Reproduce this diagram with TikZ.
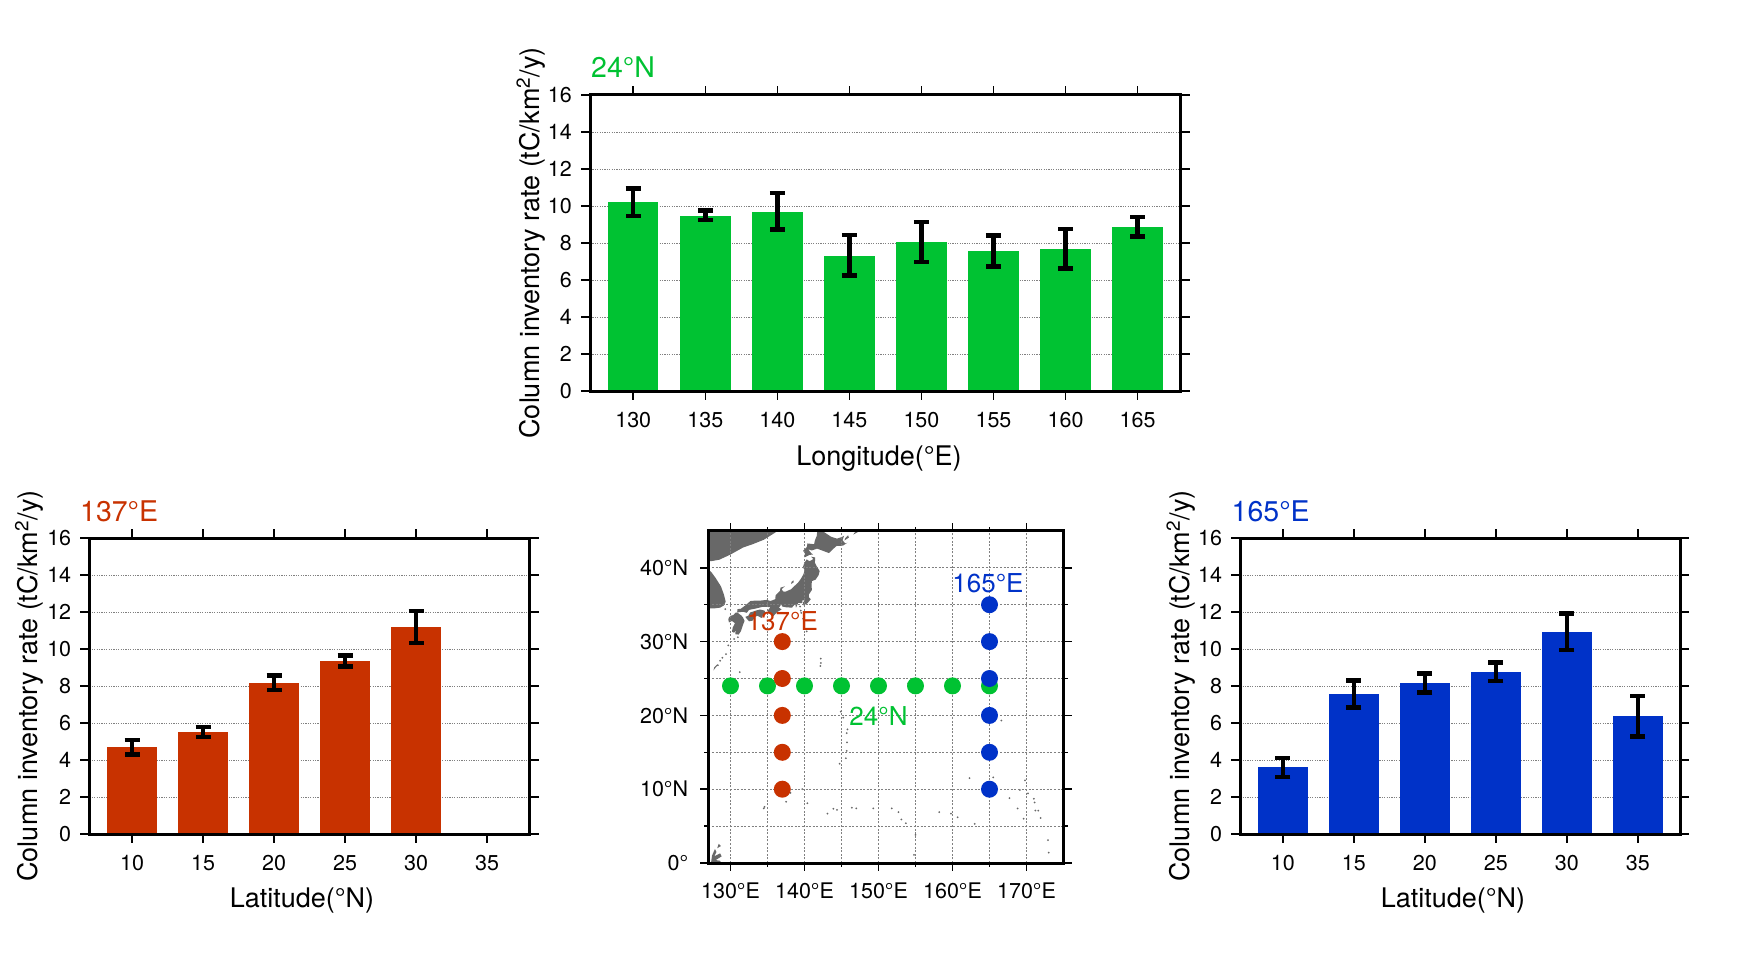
\documentclass[tikz,border=0pt]{standalone}
\usepackage{fontspec}
\setmainfont{TeX Gyre Heros}
\usetikzlibrary{arrows.meta}
\definecolor{c24n}{RGB}{0,194,50}
\definecolor{c137e}{RGB}{200,50,0}
\definecolor{c165e}{RGB}{0,50,200}
\definecolor{landgray}{RGB}{104,104,104}
\definecolor{gridgray}{RGB}{128,128,128}
\tikzset{
  axisframe/.style={line width=3pt},
  tickmark/.style={line width=1.5pt},
  gridline/.style={gridgray, line width=0.9pt, dash pattern=on 1.2pt off 1.2pt},
  mapgrid/.style={gridgray, line width=1.1pt, dash pattern=on 2pt off 1.6pt},
  errbar/.style={line width=4.5pt, arrows={Bar[width=15pt]-Bar[width=15pt]}},
  ticklab/.style={inner sep=0pt, font=\fontsize{21.5}{24}\selectfont},
  axislab/.style={inner sep=0pt, anchor=base, font=\fontsize{27}{30}\selectfont},
  paneltitle/.style={inner sep=0pt, anchor=base west, font=\fontsize{28.5}{32}\selectfont},
  maplab/.style={inner sep=0pt, font=\fontsize{26}{29}\selectfont},
  land/.style={fill=landgray}
}
\begin{document}
\begin{tikzpicture}[x=1pt, y=-1pt]
        \fill[white] (0,0) rectangle (1754,960);
        \path[use as bounding box] (0,0) rectangle (1754,960);

        \begin{scope}[shift={(590,391)}, x=14.41pt, y=18.5pt, shift={(-127,0)}]
          \foreach \v in {2,4,...,14}
            \draw[gridline] (127,\v) -- (168,\v);
          \foreach \lon/\val/\lo/\hi in {130/10.19/9.33/11.07, 135/9.47/9.11/9.87, 140/9.70/8.60/10.82, 145/7.31/6.11/8.55, 150/8.03/6.84/9.25, 155/7.56/6.60/8.53, 160/7.67/6.49/8.87, 165/8.86/8.24/9.52} {
            \fill[c24n] (\lon-1.75,0) rectangle (\lon+1.75,\val);
            \draw[errbar] (\lon,\lo) -- (\lon,\hi);
          }
          \foreach \v in {0,2,...,16} {
            \draw[tickmark] (127,\v) -- ++(-9pt,0);
            \draw[tickmark] (168,\v) -- ++(9pt,0);
            \node[ticklab, anchor=east] (ty\v) at ([xshift=-18pt]127,\v) {\v};
          }
          \foreach \lon in {130,135,...,165} {
            \draw[tickmark] (\lon,0) -- ++(0,-9pt);
            \draw[tickmark] (\lon,16) -- ++(0,9pt);
            \node[ticklab] (tx\lon) at ([yshift=-29.5pt]\lon,0) {\lon};
          }
          \draw[axisframe] (127,0) rectangle (168,16);
        \end{scope}
        \node[paneltitle, c24n] (t24n) at (591,78) {24°N};
        \node[axislab] (xl24n) at (879,465) {Longitude(°E)};
        \node[axislab, rotate=90] (yl24n) at (539,243) {Column inventory rate (tC/km\textsuperscript{2}/y)};

        \begin{scope}[shift={(89.4,834)}, x=14.2pt, y=18.5pt, shift={(-7,0)}]
          \foreach \v in {2,4,...,14}
            \draw[gridline] (7,\v) -- (38,\v);
          \foreach \lat/\val/\lo/\hi in {10/4.68/4.18/5.19, 15/5.53/5.12/5.91, 20/8.17/7.65/8.68, 25/9.37/8.93/9.76, 30/11.17/10.21/12.17} {
            \fill[c137e] (\lat-1.77,0) rectangle (\lat+1.77,\val);
            \draw[errbar] (\lat,\lo) -- (\lat,\hi);
          }
          \foreach \v in {0,2,...,16} {
            \draw[tickmark] (7,\v) -- ++(-9pt,0);
            \draw[tickmark] (38,\v) -- ++(9pt,0);
            \node[ticklab, anchor=east] (ly\v) at ([xshift=-18pt]7,\v) {\v};
          }
          \foreach \lat in {10,15,...,35} {
            \draw[tickmark] (\lat,0) -- ++(0,-9pt);
            \draw[tickmark] (\lat,16) -- ++(0,9pt);
            \node[ticklab] (lx\lat) at ([yshift=-29.5pt]\lat,0) {\lat};
          }
          \draw[axisframe] (7,0) rectangle (38,16);
        \end{scope}
        \node[paneltitle, c137e] (t137e) at (80,521) {137°E};
        \node[axislab] (xl137e) at (302,907.5) {Latitude(°N)};
        \node[axislab, rotate=90] (yl137e) at (37.5,686) {Column inventory rate (tC/km\textsuperscript{2}/y)};

        \begin{scope}[shift={(1240.2,834)}, x=14.2pt, y=18.5pt, shift={(-7,0)}]
          \foreach \v in {2,4,...,14}
            \draw[gridline] (7,\v) -- (38,\v);
          \foreach \lat/\val/\lo/\hi in {10/3.60/2.97/4.23, 15/7.56/6.71/8.43, 20/8.17/7.54/8.79, 25/8.77/8.15/9.40, 30/10.94/9.82/12.04, 35/6.36/5.15/7.58} {
            \fill[c165e] (\lat-1.77,0) rectangle (\lat+1.77,\val);
            \draw[errbar] (\lat,\lo) -- (\lat,\hi);
          }
          \foreach \v in {0,2,...,16} {
            \draw[tickmark] (7,\v) -- ++(-9pt,0);
            \draw[tickmark] (38,\v) -- ++(9pt,0);
            \node[ticklab, anchor=east] (ry\v) at ([xshift=-18pt]7,\v) {\v};
          }
          \foreach \lat in {10,15,...,35} {
            \draw[tickmark] (\lat,0) -- ++(0,-9pt);
            \draw[tickmark] (\lat,16) -- ++(0,9pt);
            \node[ticklab] (rx\lat) at ([yshift=-29.5pt]\lat,0) {\lat};
          }
          \draw[axisframe] (7,0) rectangle (38,16);
        \end{scope}
        \node[paneltitle, c165e] (t165e) at (1231.5,521) {165°E};
        \node[axislab] (xl165e) at (1453,907.5) {Latitude(°N)};
        \node[axislab, rotate=90] (yl165e) at (1189,686) {Column inventory rate (tC/km\textsuperscript{2}/y)};

        \begin{scope}[shift={(708.3,863)}, x=7.4pt, y=7.38pt, shift={(-127,0)}]
          \begin{scope}
            \clip (127,0) rectangle (175,45);
            \fill[land] plot coordinates {(120,47) (137.3,47) (136.4,45.0) (134.5,43.8) (133.0,43.2) (131.7,42.75) (130.0,41.8) (128.5,41.1) (127.4,40.9) (120,40.9)} -- cycle;
            \fill[land] plot coordinates {(120,39.6) (127.1,39.7) (127.5,39.3) (128.0,38.6) (128.7,37.5) (129.1,36.4) (129.35,35.4) (129.1,34.9) (128.6,34.6) (127.8,34.5) (120,34.5)} -- cycle;
            \fill[land] plot coordinates {(141.9,45.5) (142.7,44.8) (143.6,44.2) (144.4,43.95) (145.1,44.2) (145.35,44.35) (145.15,43.75) (145.5,43.3) (145.8,43.4) (145.2,43.0) (144.3,42.95) (143.3,42.0) (142.5,42.3) (141.7,42.6) (141.0,42.35) (140.5,42.5) (140.9,42.0) (141.15,41.8) (140.7,41.75) (140.0,41.4) (140.05,42.0) (139.8,42.3) (140.3,42.8) (140.4,43.3) (141.3,43.2) (141.4,43.7) (141.65,44.3) (141.75,45.2) (141.6,45.45)} -- cycle;
            \fill[land] plot coordinates {(140.9,41.5) (141.45,41.4) (141.4,40.7) (141.6,40.3) (142.05,39.55) (141.9,39.0) (141.5,38.4) (141.0,38.2) (140.95,37.6) (141.0,37.0) (140.6,36.4) (140.6,36.0) (140.85,35.75) (140.4,35.2) (139.85,34.9) (139.8,35.3) (140.05,35.6) (139.7,35.6) (139.7,35.2) (139.15,35.25) (138.85,34.6) (138.75,35.1) (138.3,34.6) (137.5,34.65) (137.0,34.75) (136.85,35.05) (136.55,34.6) (136.9,34.35) (136.3,34.0) (135.8,33.45) (135.1,33.9) (135.1,34.3) (135.4,34.65) (135.0,34.7) (134.3,34.7) (133.5,34.5) (132.5,34.3) (132.2,33.9) (131.7,34.05) (130.9,33.95) (130.95,34.4) (131.4,34.45) (132.0,34.9) (132.7,35.5) (133.3,35.55) (134.0,35.55) (134.9,35.65) (135.4,35.5) (135.8,35.65) (136.05,35.75) (136.1,36.3) (136.7,36.9) (136.75,37.3) (137.35,37.5) (136.9,37.1) (137.1,36.8) (137.4,36.75) (138.2,37.1) (138.6,37.5) (139.1,37.95) (139.5,38.5) (139.85,39.1) (140.05,39.8) (139.75,40.0) (139.95,40.6) (140.3,41.15) (140.65,40.9) (140.9,41.0) (141.2,41.2)} -- cycle;
            \fill[land] plot coordinates {(132.0,33.35) (132.5,32.75) (133.0,32.85) (133.3,33.35) (133.65,33.5) (134.2,33.2) (134.4,33.6) (134.75,33.85) (134.6,34.2) (134.0,34.35) (133.4,34.2) (133.0,34.05) (132.65,33.95) (132.4,33.5)} -- cycle;
            \fill[land] plot coordinates {(130.9,33.95) (131.45,33.55) (131.7,33.25) (131.9,32.8) (131.7,32.3) (131.4,31.4) (131.1,30.95) (130.65,31.0) (130.7,31.55) (130.5,31.2) (130.2,31.35) (130.3,31.9) (130.6,32.5) (130.2,32.8) (129.8,32.6) (129.7,33.0) (129.8,33.3) (130.0,33.5) (130.4,33.6) (130.65,33.9)} -- cycle;
            \fill[land] plot coordinates {(138.2,37.8) (138.55,38.05) (138.5,38.3) (138.25,38.1)} -- cycle;
            \fill[land] plot coordinates {(145.4,43.7) (146.0,44.1) (145.9,44.4) (145.5,44.0)} -- cycle;
            \fill[land] plot coordinates {(146.6,44.5) (147.3,44.9) (148.2,45.3) (148.9,45.6) (147.6,45.2) (146.8,44.8)} -- cycle;
            \fill[land] plot coordinates {(127.3,-0.5) (127.5,1.0) (127.9,1.9) (128.1,1.5) (127.8,0.9) (128.6,1.3) (128.8,0.9) (128.0,0.4) (128.6,0.3) (128.9,-0.5)} -- cycle;
            \fill[land] plot coordinates {(128.2,2.0) (128.7,2.3) (128.4,2.6)} -- cycle;
            \fill[land] plot coordinates {(127.7,26.1) (128.0,26.5) (128.3,26.85) (128.2,26.9) (127.8,26.5)} -- cycle;
            \foreach \lon/\lat in {128.3/26.8, 129.4/28.3, 128.9/27.8, 128.6/27.4, 129.7/29.5, 130.5/30.35, 131.0/30.6, 129.3/34.4, 139.4/34.75, 139.5/34.2, 139.55/33.9, 139.8/33.1, 140.3/31.4, 142.2/27.1, 142.15/26.7, 142.2/27.7, 131.25/25.85, 145.7/15.2, 145.6/14.2, 144.75/13.45, 145.75/16.35, 145.7/17.6, 145.8/18.1, 145.25/19.7, 144.9/20.5, 166.6/19.3, 154.0/24.3, 134.5/7.4, 134.6/7.6, 138.1/9.5, 139.7/10.0, 151.8/7.4, 158.2/6.9, 163.0/5.3, 171.2/7.1, 167.7/8.8, 162.3/11.5, 165.5/11.6, 169.8/11.2, 170.2/9.45, 171.0/8.7, 169.6/6.0, 171.6/7.1, 171.9/6.1, 168.8/7.4, 169.1/9.9, 171.1/8.2, 143.9/7.35, 147.0/7.4, 149.3/7.4, 153.7/5.4, 155.0/3.8, 154.8/1.1, 159.8/6.7, 160.7/6.2, 137.5/8.3, 140.4/8.1, 143.1/6.7, 144.4/7.2, 146.4/7.5, 152.7/6.9, 153.1/5.9, 173.0/1.4, 172.9/3.1}
              \fill[land] (\lon,\lat) circle[radius=1pt];
          \end{scope}
          \foreach \lon in {130,135,...,170}
            \draw[mapgrid] (\lon,0) -- (\lon,45);
          \foreach \lat in {5,10,...,40}
            \draw[mapgrid] (127,\lat) -- (175,\lat);
          \foreach \lon in {130,135,...,165}
            \fill[c24n] (\lon,24) circle[radius=8.5pt];
          \foreach \lat in {10,15,...,30}
            \fill[c137e] (137,\lat) circle[radius=8.5pt];
          \foreach \lat in {10,15,...,35}
            \fill[c165e] (165,\lat) circle[radius=8.5pt];
          \draw[axisframe] (127,0) rectangle (175,45);
          \foreach \lon in {130,140,...,170} {
            \draw[tickmark] (\lon,0) -- ++(0,-8pt);
            \draw[tickmark] (\lon,45) -- ++(0,8pt);
            \node[ticklab] (mx\lon) at ([yshift=-27.5pt]\lon,0) {\lon°E};
          }
          \foreach \lon in {135,145,...,165} {
            \draw[tickmark] (\lon,0) -- ++(0,-4pt);
            \draw[tickmark] (\lon,45) -- ++(0,4pt);
          }
          \foreach \lat in {10,20,...,40} {
            \draw[tickmark] (127,\lat) -- ++(-8pt,0);
            \draw[tickmark] (175,\lat) -- ++(8pt,0);
            \node[ticklab, anchor=east] (my\lat) at ([xshift=-20pt]127,\lat) {\lat°N};
          }
          \foreach \lat in {5,15,...,35} {
            \draw[tickmark] (127,\lat) -- ++(-4pt,0);
            \draw[tickmark] (175,\lat) -- ++(4pt,0);
          }
          \draw[tickmark] (127,0) -- ++(-8pt,0);
          \draw[tickmark] (175,0) -- ++(8pt,0);
          \node[ticklab, anchor=east] (my0) at ([xshift=-20pt]127,0) {0°};
          \node[maplab, c137e] (m137e) at (137,32.8) {137°E};
          \node[maplab, c165e] (m165e) at (164.8,37.85) {165°E};
          \node[maplab, c24n] (m24n) at (150,19.9) {24°N};
        \end{scope}
\end{tikzpicture}
\end{document}
